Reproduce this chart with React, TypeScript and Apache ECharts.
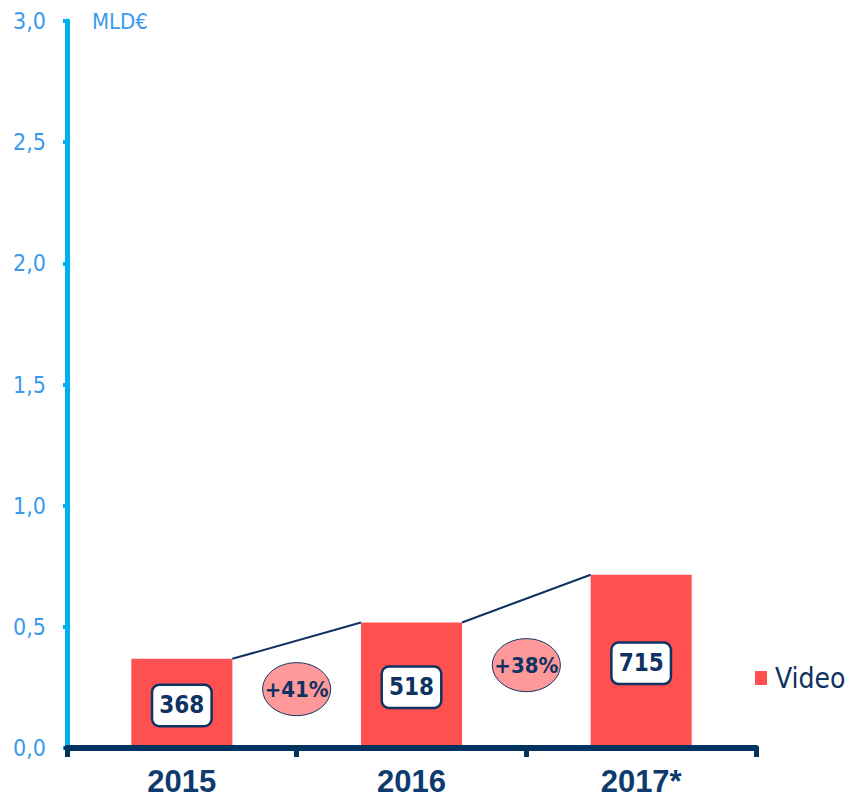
import React, { useEffect, useRef } from "react";
import * as echarts from "echarts";

const categories = ["2015", "2016", "2017*"];
const valuesMln = [368, 518, 715];
const growthLabels = ["+41%", "+38%"];
const seriesName = "Video";
const unitLabel = "MLD€";
const yMin = 0;
const yMax = 3;
const yInterval = 0.5;

const NAVY = "#0E3262";
const AXIS_NAVY = "#00335F";
const LIGHT_BLUE = "#00B0F0";
const LABEL_BLUE = "#3A9AEE";
const BAR_RED = "#FF5050";
const PINK = "#FF9999";
const FONT = "'DejaVu Sans Condensed', 'DejaVu Sans', sans-serif";
const BAR_W = 0.44;

export default function App() {
  const ref = useRef<HTMLDivElement>(null);

  useEffect(() => {
    document.body.style.margin = "0";
    if (!ref.current) return;
    const chart = echarts.init(ref.current, undefined, { renderer: "svg" });

    const barData = valuesMln.map((v) => v / 1000);
    const linkData = growthLabels.map((_, i) => [i, barData[i], barData[i + 1]]);

    chart.setOption({
      animation: false,
      grid: { left: 67, right: 94, top: 21, bottom: 51, containLabel: false },
      legend: {
        data: [seriesName],
        left: 750,
        top: 659,
        orient: "vertical",
        icon: "rect",
        itemWidth: 12,
        itemHeight: 14,
        textStyle: { fontSize: 28, color: NAVY, fontFamily: FONT, padding: [0, 0, 0, 3] },
      },
      xAxis: {
        type: "category",
        data: categories,
        z: 5,
        axisLine: { lineStyle: { color: AXIS_NAVY, width: 6 } },
        axisTick: { show: true, length: 9, lineStyle: { color: AXIS_NAVY, width: 5 }, interval: 0 },
        axisLabel: {
          margin: 18,
          fontSize: 31,
          fontWeight: "bold",
          color: "#0E3A6E",
          fontFamily: "'Liberation Sans', Arial, sans-serif",
        },
      },
      yAxis: {
        type: "value",
        min: yMin,
        max: yMax,
        interval: yInterval,
        z: 2,
        axisLine: { show: true, lineStyle: { color: LIGHT_BLUE, width: 5 } },
        axisTick: { show: true, length: 4, lineStyle: { color: LIGHT_BLUE, width: 4 } },
        splitLine: { show: false },
        axisLabel: {
          margin: 21,
          fontSize: 23,
          color: LABEL_BLUE,
          fontFamily: FONT,
          formatter: (v: number) => v.toFixed(1).replace(".", ","),
        },
      },
      graphic: [
        {
          type: "text",
          left: 92,
          top: 10,
          style: { text: unitLabel, fill: LABEL_BLUE, fontSize: 22, fontFamily: FONT },
        },
      ],
      series: [
        {
          name: seriesName,
          type: "bar",
          data: barData,
          barWidth: BAR_W * 100 + "%",
          itemStyle: { color: BAR_RED },
          label: {
            show: true,
            position: "inside",
            offset: [0, 2],
            formatter: (p: any) => String(valuesMln[p.dataIndex]),
            backgroundColor: "#fff",
            borderColor: NAVY,
            borderWidth: 2.5,
            borderRadius: 6,
            padding: [8, 6, 7, 6],
            fontSize: 24,
            fontWeight: "bold",
            fontFamily: FONT,
            color: NAVY,
          },
        },
        {
          type: "custom",
          data: linkData,
          encode: { x: 0, y: 1 },
          z: 3,
          silent: true,
          renderItem: (params: any, api: any) => {
            const i = api.value(0);
            const v0 = api.value(1);
            const v1 = api.value(2);
            const catW = api.size([1, 0])[0];
            const half = catW * (BAR_W / 2);
            const p0 = api.coord([i, v0]);
            const p1 = api.coord([i + 1, v1]);
            const cx = (p0[0] + p1[0]) / 2;
            const cy = api.coord([i, v0 * 0.66])[1];
            return {
              type: "group",
              children: [
                {
                  type: "line",
                  shape: { x1: p0[0] + half, y1: p0[1], x2: p1[0] - half, y2: p1[1] },
                  style: { stroke: NAVY, lineWidth: 2 },
                },
                {
                  type: "ellipse",
                  shape: { cx, cy, rx: 34, ry: 26.5 },
                  style: { fill: PINK, stroke: NAVY, lineWidth: 1 },
                },
                {
                  type: "text",
                  x: cx,
                  y: cy,
                  style: {
                    text: growthLabels[params.dataIndex],
                    fill: NAVY,
                    fontSize: 22,
                    fontWeight: "bold",
                    fontFamily: FONT,
                    align: "center",
                    verticalAlign: "middle",
                  },
                },
              ],
            };
          },
        },
      ],
    });

    return () => chart.dispose();
  }, []);

  return <div ref={ref} style={{ width: 850, height: 799 }} />;
}
